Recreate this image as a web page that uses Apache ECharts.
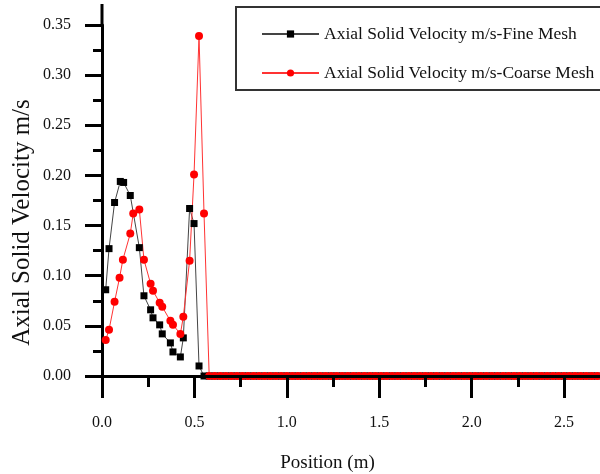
<!DOCTYPE html>
<html>
<head>
<meta charset="utf-8">
<script src="https://cdn.jsdelivr.net/npm/echarts@6/dist/echarts.min.js"></script>
<style>
  html, body { margin: 0; padding: 0; background: #fff; }
  #chart { width: 600px; height: 474px; }
</style>
</head>
<body>
<div id="chart"></div>
<script>
// fine mesh, non-zero part
var fineX = [0.020, 0.038, 0.068, 0.099, 0.117, 0.153, 0.202, 0.227, 0.263, 0.276, 0.312, 0.326, 0.370, 0.384, 0.424, 0.440, 0.474, 0.498, 0.525, 0.552];
var fineY = [0.086, 0.127, 0.173, 0.194, 0.193, 0.180, 0.128, 0.080, 0.066, 0.058, 0.051, 0.042, 0.033, 0.024, 0.019, 0.038, 0.167, 0.152, 0.010, 0.000];
// coarse mesh, non-zero part
var coarseX = [0.020, 0.038, 0.068, 0.095, 0.113, 0.153, 0.169, 0.202, 0.227, 0.263, 0.276, 0.312, 0.326, 0.370, 0.384, 0.424, 0.440, 0.474, 0.498, 0.525, 0.552];
var coarseY = [0.036, 0.046, 0.074, 0.098, 0.116, 0.142, 0.162, 0.166, 0.116, 0.092, 0.085, 0.073, 0.069, 0.055, 0.051, 0.042, 0.059, 0.115, 0.201, 0.339, 0.162];
// positions where both series sit at zero
var zeroX = [0.58, 0.61, 0.64, 0.67, 0.70, 0.73, 0.76, 0.79, 0.82, 0.85, 0.88, 0.91, 0.94, 0.97,
	1.00, 1.03, 1.06, 1.09, 1.12, 1.15, 1.18, 1.21, 1.24, 1.27, 1.30, 1.33, 1.36, 1.39, 1.42, 1.45, 1.48,
	1.51, 1.54, 1.57, 1.60, 1.63, 1.66, 1.69, 1.72, 1.75, 1.78, 1.81, 1.84, 1.87, 1.90, 1.93, 1.96, 1.99,
	2.02, 2.05, 2.08, 2.11, 2.14, 2.17, 2.20, 2.23, 2.26, 2.29, 2.32, 2.35, 2.38, 2.41, 2.44, 2.47, 2.50,
	2.53, 2.56, 2.59, 2.62, 2.65, 2.68, 2.71];

var seriesNames = ['Axial Solid Velocity m/s-Fine Mesh', 'Axial Solid Velocity m/s-Coarse Mesh'];
var serif = '"Liberation Serif", "Times New Roman", serif';

function pairs(xs, ys) {
	var out = xs.map(function(x, i) {
		return [x, ys[i]];
	});
	zeroX.forEach(function(x) {
		out.push([x, 0]);
	});
	return out;
}

var chart = echarts.init(document.getElementById('chart'));

var option = {
	animation: false,
	grid: {
		left: 102,
		right: -1,
		top: 25,
		bottom: 98,
		outerBoundsMode: 'none'
	},
	legend: {
		data: seriesNames,
		orient: 'vertical',
		left: 236,
		top: 7,
		padding: [18, 30, 8, 25],
		itemWidth: 57,
		itemHeight: 9,
		itemGap: 21,
		borderColor: '#333',
		borderWidth: 2,
		textStyle: {
			fontFamily: serif,
			fontSize: 17.5,
			color: '#111'
		}
	},
	xAxis: {
		type: 'value',
		min: 0,
		max: 2.7,
		interval: 0.5,
		name: 'Position (m)',
		nameLocation: 'middle',
		nameGap: 78,
		nameMoveOverlap: false,
		nameTextStyle: {
			fontFamily: serif,
			fontSize: 19,
			color: '#111',
			padding: [0, 48, 0, 0]
		},
		z: 5,
		splitLine: { show: false },
		axisLine: { onZero: false, lineStyle: { color: '#000', width: 3 } },
		axisTick: { length: 22, lineStyle: { color: '#000', width: 3 } },
		minorTick: { show: true, splitNumber: 2, length: 11, lineStyle: { color: '#000', width: 3 } },
		axisLabel: {
			margin: 39,
			showMaxLabel: false,
			fontFamily: serif,
			fontSize: 16,
			color: '#111',
			formatter: function(v) { return v.toFixed(1); }
		}
	},
	yAxis: {
		type: 'value',
		min: 0,
		max: 0.35,
		interval: 0.05,
		name: 'Axial Solid Velocity m/s',
		nameLocation: 'middle',
		nameGap: 67,
		nameMoveOverlap: false,
		nameTextStyle: {
			fontFamily: serif,
			fontSize: 25,
			color: '#111',
			padding: [0, 44, 0, 0]
		},
		splitLine: { show: false },
		axisLine: { lineStyle: { color: '#000', width: 3 } },
		axisTick: { length: 17, lineStyle: { color: '#000', width: 3 } },
		minorTick: { show: true, splitNumber: 2, length: 9, lineStyle: { color: '#000', width: 3 } },
		axisLabel: {
			margin: 31,
			fontFamily: serif,
			fontSize: 16,
			color: '#111',
			formatter: function(v) { return v.toFixed(2); }
		}
	},
	graphic: [{
		// axis line runs a little above the top tick
		type: 'line',
		shape: { x1: 102, y1: 4, x2: 102, y2: 26 },
		style: { stroke: '#000', lineWidth: 3 }
	}],
	series: [{
		name: seriesNames[0],
		type: 'line',
		data: pairs(fineX, fineY),
		symbol: 'rect',
		symbolSize: 7,
		itemStyle: { color: '#000' },
		lineStyle: { color: '#444', width: 1 }
	}, {
		name: seriesNames[1],
		type: 'line',
		data: pairs(coarseX, coarseY),
		symbol: 'circle',
		symbolSize: 8,
		itemStyle: { color: '#ff0000' },
		lineStyle: { color: '#ff3333', width: 1 }
	}]
};

chart.setOption(option);
</script>
</body>
</html>
